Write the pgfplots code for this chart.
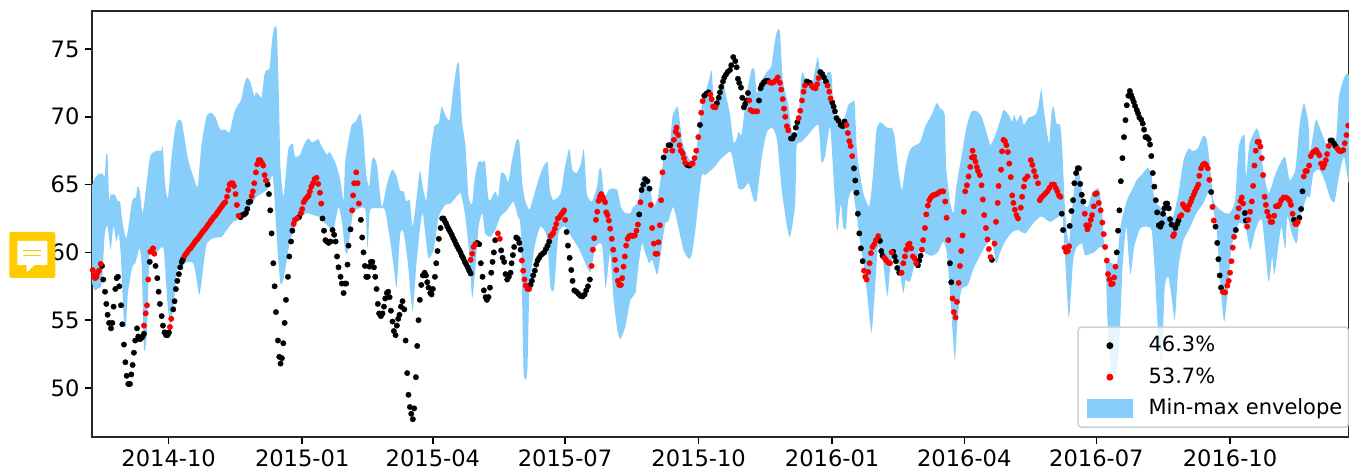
\documentclass[border=0pt]{standalone}
\usepackage{fontspec}
\setmainfont{DejaVu Sans}
\usepackage{pgfplots}
\usepackage{pgfplotstable}
\pgfplotsset{compat=1.18}
\definecolor{envblue}{HTML}{87CEFA}
\definecolor{iconyellow}{HTML}{FFCC00}
\pgfplotstableread[row sep=\\]{
d v\\
-53 64.85\\-51 65.45\\-48 65.8\\-45.5 65.8\\-44 65.6\\-43 67.2\\-42 67.05\\-41 63.85\\-40 64.25\\-37 64.25\\-35 63.75\\-33.5 63.75\\-32 62.4\\-29.5 61.05\\-28 61.65\\-25.5 63.6\\-24 64.05\\-22.5 64.05\\-21.5 64.85\\-20 64.6\\-18 62.9\\-16 64.35\\-13.5 66.55\\-12 67.25\\-8 67.5\\-5 67.5\\-4 67.75\\-2.5 65.1\\-0.5 64\\2 67.05\\4.5 69.15\\6.5 69.75\\9 69.65\\11 68.4\\13.5 66.8\\17 65.6\\20 64.85\\22.5 67.8\\26 70\\29.5 70.3\\32.5 69.9\\35.5 69.05\\39 69.05\\42 68.85\\45 70.25\\47 70.75\\50 71.25\\52 72.35\\54 72.9\\56.5 72.5\\59 71.5\\60 71.8\\62 71.65\\64 71.45\\66 73.1\\67.5 73.45\\69.5 73.55\\71 75.4\\72.5 76.5\\74.5 76.4\\76 71.25\\77 66.3\\79 64.1\\80.5 65.6\\82.5 67.65\\85.5 68\\87 67.05\\90.5 67.2\\93 67.9\\96 68.4\\99 68.1\\103 68.35\\105 67.9\\109 67.2\\
111 67.4\\115 66.55\\118 65.45\\120.5 63.85\\121.5 66.55\\124 68.3\\126 69.4\\129 69.65\\132 70.25\\134 68.8\\136 65.85\\138 64.85\\140 66.8\\141.5 67\\143.5 66.45\\145 64.85\\147 63.35\\150.5 65.1\\154 66.1\\157 65.6\\159.5 64.55\\162 64.5\\163.5 63.75\\166 63.85\\168 61.9\\170 63.35\\173 66\\175 64.85\\177.5 63.85\\180 67.05\\183 69.3\\186 69.5\\188 70.75\\190.5 70.15\\193.5 69.75\\196 72\\198.5 73.8\\200 73.8\\202 69.75\\204.5 67.8\\206.5 64.1\\209 63.6\\211 65.6\\213.5 66.7\\216 66.65\\218 66.65\\220 64.1\\221.5 63.85\\225 64.5\\227 64.1\\229 65.85\\232 65.7\\234 65.2\\236.5 66.8\\239.5 68.25\\241.5 68.15\\243.5 65.2\\245.5 63.85\\248.5 63.15\\252 64.35\\255 65.45\\258 66.3\\261 66.65\\262.5 64.6\\265 63.85\\270 64.35\\273 66.3\\276 67.65\\278 66.1\\281 65.85\\284 66.55\\286 67.6\\288 64.35\\291.5 63.75\\295 64.85\\296.5 66.1\\298 66.1\\300 64.1\\303 64.6\\305 64.7\\309 64.6\\311.5 63.35\\314.5 62.9\\318 62.9\\320 63.35\\323.5 63.75\\326 65.6\\328 65.45\\331.5 64.7\\334 63.35\\337 64.1\\340 66.3\\
342 67.55\\345 67.8\\347 70\\349.5 70.65\\351 70.6\\353.5 68.3\\355.5 67.55\\359 66.8\\362.5 67\\365 68.8\\367 70.65\\369.5 71.7\\372.5 72.85\\374 73.4\\375.5 71.2\\378.5 71\\381.5 72.95\\383 72\\386.5 70.25\\389 68.15\\391 68.3\\392.5 68.9\\394.5 68.65\\397 70.75\\399 72.2\\401.5 73.5\\403.5 73.45\\405 71.7\\407 72.45\\412 73.3\\415 73.7\\417.5 75.55\\419 76.3\\421 76.3\\423 72.7\\427 70.75\\429 68.9\\431.5 68.55\\433.5 69.25\\436 73.2\\439 72.7\\443 72.35\\445 73.35\\447 74.4\\448.5 73.45\\450 72.6\\452 72.7\\454 73.3\\456.5 73.1\\458 70.5\\461 69.4\\464.5 69.5\\468 70.85\\471 71.1\\472.5 71\\474 67.55\\476 65.85\\478.5 64.35\\482.5 63.4\\485 65.6\\487.5 69\\490 69.6\\492.5 69.4\\495.5 69.15\\498 69.2\\500 68.55\\502.5 66.1\\505 64.6\\507.5 66.3\\510.5 67.55\\514 67.9\\517.5 68.1\\521 69.25\\525.5 70.15\\529 71\\531.5 70.6\\534.5 70.15\\535.5 66.3\\538 63.85\\540.5 62.9\\542.5 64.85\\546 67.05\\549.5 69.25\\553 70.4\\556.5 70.4\\560 70\\564.5 68.4\\566 67.9\\569 68.55\\572.5 69.65\\
575 70.5\\578.5 70.15\\581 69.65\\582.5 70.15\\584 69.65\\587 70.15\\589 69.4\\592 69.9\\597 70.15\\599 70.75\\601 72.05\\602.5 70.75\\605 68.8\\606.5 68.05\\608 70.25\\609.5 70.75\\611.5 69.5\\614 69.4\\615.5 67.55\\617.5 62.9\\620 60.65\\622 62.9\\624.5 65.6\\626 66.3\\628 65.35\\630 63.6\\633 63.35\\636 64.35\\639 64.7\\641 64.6\\643 62.9\\644 60.9\\646 59.45\\650 59.2\\652 58.95\\653.5 59.45\\655.5 61.9\\660 63.85\\663.5 64.6\\666.8 65.35\\670 65.7\\674.5 66.25\\677 65.6\\679 63.85\\683 63.35\\686 62.9\\691 62.4\\695.5 64.35\\699 66.8\\702.5 67.65\\705.5 67.45\\709 67.7\\712.5 68.6\\715 68.3\\717.5 66.1\\719.5 63.85\\723 63.25\\727.5 62.9\\731 62.9\\734.5 63.85\\737 67.8\\741 68.65\\742 65.55\\744.5 68.05\\749.5 69.15\\752 68.3\\753.5 66.3\\757.5 64.35\\762 65.7\\765.5 66.55\\769 67.05\\772 65.35\\776 66.1\\779 69.5\\782 71\\785 69.5\\786 67.3\\790 69.75\\793.5 69\\797 68.05\\800 67.8\\804 68.3\\806 71.45\\809.5 72.85\\813 72.85\\
}\envup
\pgfplotstableread[row sep=\\]{
d v\\
-53 57.85\\-51 57.2\\-48.5 57.35\\-46 57.7\\-44 61.4\\-42 61.9\\-40 60.2\\-38 61.9\\-36 60.8\\-34.5 61.4\\-33 59.9\\-31 55.25\\-29.5 54.5\\-28 57\\-25 58.95\\-23 59.2\\-20 60.3\\-18.5 58.95\\-17 52.85\\-15 54\\-13 59.95\\-8 60.05\\-3.5 60.3\\-1 56.5\\1 54.65\\3 55.75\\6 58.7\\9 58.95\\12.5 59.3\\17 59.2\\19 58.2\\21 56.85\\22.5 57.7\\26 60.55\\31 61.05\\36.5 61.15\\40 61.65\\44.5 62.25\\49 62.5\\56 63.35\\60.5 64.1\\67.5 64.6\\71.5 65.7\\73 63.85\\75 60.2\\77 57.7\\79 57.95\\81 59.2\\83.5 60.8\\87 61.9\\90.5 62.5\\95 62.9\\99.5 62.75\\104 62.6\\110 61.9\\
113.5 61.65\\117 63.35\\119.5 62.15\\121.5 60.2\\123 59.9\\125 61.4\\127 62.9\\131 63.25\\135.5 63.15\\137 60.3\\138.5 63\\140.5 63.25\\146 63.25\\149 63.15\\152.5 60.9\\155 58.95\\157 57.45\\159.5 61.4\\162 61.4\\165 58.95\\168 55.65\\170.5 58.95\\173 61.65\\175 62.9\\177.5 60.65\\179 59.55\\182.5 60.2\\186 62.65\\190.5 63.5\\194 63.6\\197.5 64\\201 64.35\\204 62.9\\207 59.95\\209 56.65\\211 58.45\\213.5 61.9\\216 62.9\\218 61.4\\221.5 61.15\\225 61.65\\228.5 62.65\\233 63.1\\237.5 63.75\\240.5 62.65\\242.5 61.65\\244.5 51.2\\247 51.2\\248.5 57.25\\252 60.4\\256 61.9\\260.5 61.15\\263 57.45\\265.5 57.35\\268.5 61.4\\273 61.9\\278 61.05\\282.5 60.3\\287 59.2\\290.5 58.55\\294 60.4\\298.5 60.55\\301 57.35\\304 59.95\\306.5 56.5\\309 54.3\\311 53.6\\314.5 54.5\\318 56.5\\321.5 57\\323.5 58.95\\326 60.65\\328 60.05\\331 59.2\\333 59.45\\336.5 58.35\\338.5 59.55\\
342 62.15\\344 62.25\\347.5 63.35\\351 61.9\\354.5 60.2\\358 59.55\\360 59.7\\362.5 61.4\\367 65.6\\369.5 65.7\\376 66.3\\380 66.85\\387 67.45\\389.5 66.3\\392.5 64.7\\396 64.7\\399.5 65.1\\403 63.85\\405 63.9\\408.5 67\\412 68.9\\416 69.15\\419 68.3\\422 64.85\\425.5 62.15\\428 61.15\\431.5 63.55\\432.5 67.8\\436 68.15\\441.5 68.8\\447.5 69.4\\449.5 66.7\\452 67.05\\455.5 69.3\\457.5 66.35\\460 61.9\\461 61.75\\463 63.6\\464.5 61.9\\466.5 61.75\\468 63.85\\471 64.6\\474 62.65\\476 60.95\\479 58.95\\481 57\\484 54.1\\486 56.5\\488.5 60.4\\491.5 59.7\\495 56.8\\497 58.95\\500 59.95\\503 58.95\\506 57\\507.5 57.95\\510.5 57.85\\514 59.2\\517.5 60.3\\521 59.95\\525.5 59.75\\530 60.05\\533.5 60.8\\536 59.95\\538.5 56.5\\540 54.05\\541.5 52.1\\543.5 55.25\\546 57.25\\550.5 57.6\\554 58.7\\558.5 59.7\\563 60.55\\567 60.9\\570 59.2\\572.5 59.95\\
576 60.8\\581 61.5\\585 61.65\\590 61.4\\595.5 62.15\\601 62.65\\607 62.25\\613 62.65\\615.5 62.9\\617.5 59.45\\620 55.15\\623 59.45\\625.5 60.4\\629 60.65\\631 59.8\\635 59.9\\638 60.05\\641.5 60.4\\645 59.95\\646.5 55.25\\649 51.55\\652.5 50.95\\655 54.05\\657 58.95\\659.5 61.9\\661 59.95\\662.5 58.35\\665 60.4\\669 61.75\\673 61.9\\677 61.65\\679 58.95\\681.5 54.05\\684 52.05\\686 57.4\\688.5 58.2\\691 56.5\\693 55.05\\695.5 58.95\\699 60.9\\702.5 61.65\\708 62.9\\712.5 63.6\\717 64.6\\719 63.5\\722 61.4\\724.5 57.45\\727 54.9\\730 57.7\\732 60.4\\737 62.15\\741.5 61.9\\745 60.2\\748.5 61.65\\753 62.4\\757.5 57.85\\760 59.7\\761.5 58.35\\764.5 60.65\\766.5 61.9\\769 60.2\\770.5 62.65\\773.5 61.4\\777 60.65\\779 62.5\\784 64.1\\786 64.1\\788.5 65.85\\792.5 66.1\\796 65.35\\800 64\\803 63.75\\806 65.6\\809.5 67.05\\813 65.2\\
}\envlo
\pgfplotstablesort[sort key=d, sort cmp=float >]{\envlorev}{\envlo}
\pgfplotstablevertcat{\envall}{\envup}
\pgfplotstablevertcat{\envall}{\envlorev}
\begin{document}
\begin{tikzpicture}
\begin{axis}[
  at={(0pt,0pt)}, anchor=south west,
  scale only axis, width=1257.5pt, height=426pt,
  xmin=-52.8, xmax=813, ymin=46.4, ymax=77.8,
  xtick={0,92,182,273,365,457,548,639,731},
  xticklabels={2014-10,2015-01,2015-04,2015-07,2015-10,2016-01,2016-04,2016-07,2016-10},
  ytick={50,55,60,65,70,75},
  tick align=outside, tick pos=left,
  major tick length=7pt,
  every tick/.style={black,line width=1.5pt},
  axis line style={line width=1.5pt,black!85},
  /pgf/number format/assume math mode=true,
  tick label style={font=\fontsize{22.6}{26}\selectfont},
  xticklabel style={yshift=-2pt},
  yticklabel style={xshift=-2pt},
  legend cell align=left,
  legend style={
    at={(1,0.021)}, anchor=south east,
    draw=black!18, line width=1.5pt, fill=white, fill opacity=0.8, text opacity=1,
    rounded corners=3pt,
    font=\fontsize{21}{25}\selectfont,
    inner xsep=4pt, inner ysep=6.5pt,
    row sep=7.5pt,
    /tikz/column 1/.style={column sep=14pt},
    nodes={inner sep=2pt, text height=16pt, text depth=4pt},
  },
]
\addlegendimage{legend image code/.code={\path (-5pt,0pt) (44pt,0pt); \draw[black,mark=*,mark size=2.7pt,opacity=1,sharp corners] plot coordinates {(22pt,0pt)};}}
\addlegendentry{46.3\%}
\addlegendimage{legend image code/.code={\path (-5pt,0pt) (44pt,0pt); \draw[red,mark=*,mark size=2.7pt,mark options={fill=red},opacity=1,sharp corners] plot coordinates {(22pt,0pt)};}}
\addlegendentry{53.7\%}
\addlegendimage{legend image code/.code={\path (-5pt,0pt) (44pt,0pt); \fill[envblue,fill opacity=1,sharp corners] (0pt,-8.5pt) rectangle (44pt,8.5pt);}}
\addlegendentry{Min-max envelope}

\addplot[fill=envblue, draw=none, forget plot, smooth, tension=0.35] table[x=d,y=v]{\envall};

% black series
\addplot[only marks, mark=*, mark size=2.7pt, color=black, forget plot] coordinates {
(-45.9,59)(-45,58)(-43.8,57.1)(-42.9,56.2)(-42,55.4)(-41,54.8)(-39.7,54.4)(-38.8,54.8)(-37.9,56)(-36.7,57.3)(-35.8,58.1)(-34.9,58.2)(-34,57.5)(-32.8,56.1)(-31.9,54.7)(-30.8,53.2)(-29.8,51.9)(-28.9,50.9)(-27.8,50.3)(-26.6,50.3)(-25.7,51)(-24.8,51.7)(-23.9,52.6)(-23,53.5)(-21.8,54.4)(-20.9,53.8)(-19.7,53.6)(-18.8,53.7)(-17.9,53.8)(-17,54)
(-13,59.3)(-9,59)(-7.8,58.1)(-6.9,57.1)(-6,56.2)(-4.8,55.3)(-3.9,54.6)(-2.8,54.1)(-1.8,53.9)(-0.7,53.9)(0.2,54.1)
(3.2,55.8)(4.1,56.4)(5,57.3)(6,57.9)(7.1,58.4)(8,58.9)(9,59.3)(9.9,59.5)
(49.6,62.6)(50.7,62.75)(52.1,62.8)(53.2,62.9)(54.2,63.2)(55.1,63.7)(56.2,63.75)
(68.2,65)(69.1,64.3)(70,63.1)(70.9,61.4)(72.1,59.2)(73,57.5)(73.9,55.6)(75.3,53.5)(76.2,52.3)(77.1,51.8)(78,52.2)(79,53.3)(79.9,54.8)(80.8,56.5)(82.2,58.2)(83.1,59.7)(84.3,60.8)(85.2,61.6)
(89.8,62.6)
(106,62.5)(107,61.6)(108,60.9)(109,60.8)(110.2,60.7)(111.5,60.8)(112.9,61.65)(114,61.3)(115,60.8)(116,59.7)(117,58.9)(118.4,58.2)(119.3,57.7)(120.5,57)(121.4,57.7)(122.3,57.7)(123.2,59.1)(123.9,60.5)(125.3,61.7)
(132.4,62.4)(133.3,61.1)(134.2,60)(135.2,59)(136.1,58.2)(137.2,58.2)(138.2,58.95)(139.3,59.3)(140.3,59.3)(141.4,58.9)(142.3,58.2)(143.2,57.3)(144.1,56.2)(145,55.5)(146.2,55.3)(147.3,55.5)(148.3,56)(149.2,56.6)(150.3,57)(151.2,57.1)(152.2,56.7)(153.1,55.7)(154.2,54.9)(155.1,54.2)(156.3,53.9)(157.2,54.6)(158.1,55.1)(159,55.4)(160,56)(161.1,56.4)(162.3,55.8)(163.2,53.5)(164.3,51.1)(165.2,49.5)(166.2,48.6)(167.1,48.1)(168.2,47.7)(169.1,48.5)(170.3,50.8)(171.2,53.1)(172.1,55)(173,56.5)(174,57.6)(175.1,58.3)(176.3,58.5)(177.2,58.3)(178.1,57.8)(179,57.4)(180.2,57)(181.1,56.9)(182,57.3)(183.4,58.2)(184.3,59.2)(185.2,60.1)(186.1,61)(187.3,61.8)(188.4,62.5)
(189.3,62.5)(190,62.35)(191,62.15)(192,61.9)(193,61.7)(194,61.5)(195,61.3)(196,61.05)(197,60.85)(198,60.6)(199,60.4)(200,60.2)(201,60)(202,59.75)(203,59.55)(204,59.3)(205,59.1)(206,58.9)(207,58.65)(208,58.45)
(212.5,60.7)(213.9,60.6)(215,59.2)(216.2,58.2)(217.1,57.2)(218.3,56.7)(219.2,56.5)(220.3,56.7)(221.3,57.4)(222.2,58.5)(223.1,59.3)(224,60)(224.9,60.9)
(229,60.15)(230,59.6)(231.1,59.3)(232,58.4)(233.2,58)(234.3,58.2)(235.5,58.5)(236.2,59.2)(237.1,59.8)(238,60.4)(239.4,61.1)(240.5,61)(241.5,60.7)(242.4,60.2)
(249.3,57.6)(250.2,57.9)(251.1,58.3)(252.2,58.65)(253.2,59.1)(254.1,59.4)(255.2,59.6)(256.4,59.8)(257.5,59.9)(258.7,60)(259.8,60.25)(261,60.5)(262.1,60.8)
(274.1,61.5)(275,60.5)(276.2,59.6)(277.3,58.7)(278.2,57.9)(279.4,57.2)(280.8,57.1)(282.2,56.95)(283.5,56.8)(285.1,56.75)(286.5,56.9)(287.6,57.2)(288.8,57.5)(290.1,58)
(324.1,62.8)(325.7,64.6)(326.9,65)(328.2,65.4)(329.8,65.25)(331.2,64.7)
(340.9,67)(344.3,67.9)(345.5,67.9)
(357,66.45)(358.6,66.4)
(365.9,69.4)(368.9,71.55)(370.3,71.7)(371.9,71.8)
(377.6,71)(378.8,71.4)(379.7,71.8)(380.6,72.2)(381.8,72.6)(382.7,72.9)(383.8,73.1)(385,73.3)(386.6,73.45)(387.5,73.8)(388.9,74.4)(390.3,74.1)(391.2,73.65)(392.1,72.8)(393,72.5)(394.2,72.15)(395.1,71.4)(396.2,70.7)(397.1,70.95)(398,71.2)(399,71.75)
(406.6,71.2)(407.7,72.1)(408.6,72.35)(410,72.55)(411.4,72.65)(412.8,72.65)
(428.6,68.4)(429.7,68.4)(430.9,68.65)(432,69.2)(433,69.6)
(439.4,72.6)(440.6,72.55)(441.7,72.5)
(448.8,73.3)(450.2,73.15)(451.3,72.9)(452.7,72.6)
(457.1,71.05)(458,70.75)(458.9,70.4)(460,69.9)(461.4,69.7)(462.8,69.4)(464.2,69.3)(465.5,69.65)
(472,66.2)(472.9,65.3)(473.8,64.4)(474.7,62.85)(475.7,61.4)(476.8,60.3)(478,59.35)
(489.9,60.85)(490.8,60.1)(491.7,59.75)
(499,60.05)(500,59.7)(500.9,59.35)(501.8,58.85)(503.2,58.5)
(516.1,59.05)(517,59.4)(517.9,59.75)
(538.1,59.2)(539,57.8)
(567,59.45)
(615.1,62.85)(616,61.65)
(620.6,61.95)(621.8,63.05)(622.9,63.85)(623.8,65.1)(625,65.85)(626.1,66.2)(627,66.2)(627.8,65.05)(628.9,64.25)(630,63.75)
(653,60)(653.9,61.6)(654.8,63.1)(655.8,65.25)(656.9,66.95)(658,68.5)(659,69.75)(659.9,70.85)(661,71.55)(662,71.9)(662.9,71.6)(663.8,71.35)(664.7,71.1)(665.6,70.8)(666.8,70.5)(667.7,70.25)(668.6,69.95)(669.8,69.8)(670.9,69.5)(671.8,69.05)(672.8,68.5)(673.9,68.5)(675,68.35)(675.9,67.95)(676.8,67.1)(677.8,65.85)(678.9,64.85)(679.9,63.85)(680.8,62.95)(681.9,62)(683.1,61.9)(684,62.15)(684.9,62.85)(685.8,63.25)(686.8,63.6)(687.8,63.6)(688.8,63.25)(689.7,62.45)(690.7,62.05)
(693.4,61.8)(694.6,62.1)(695.5,62.35)
(718,64.45)
(721,61.9)(722.2,60.7)(723,59.5)(723.9,58.3)(724.8,57.4)
(735,61.65)
(741.2,62.9)(741.9,62.35)
(775,62.4)
(778.8,62.55)(780,63.2)(780.9,64.5)
(800.2,68.25)(801.3,68.25)(802.5,68.05)(803.6,67.85)
};
% red series
\addplot[only marks, mark=*, mark size=2.7pt, color=red, forget plot] coordinates {
(-52.3,58.7)(-51.6,58.3)(-50.7,58.1)(-49.6,58.2)(-48.9,58.5)(-48,58.65)(-46.8,59.15)
(-17,54.6)(-15.8,55.5)(-14.9,56.1)(-14,58)(-12.6,60.05)(-11.2,60.2)(-10.7,60.3)(-9.9,59.9)
(0.9,54.5)(1.8,55.1)
(11,59.75)(12,59.9)(13,60.05)(14,60.2)(15,60.3)(16,60.45)(17,60.6)(18,60.75)(19,60.9)(20,61)(21,61.15)(22,61.3)(23,61.45)(24,61.6)(25,61.7)(26,61.85)(27,62)(28,62.15)(29,62.3)(30,62.45)(31,62.6)(32,62.7)(33,62.85)(34,63)(35,63.15)(36,63.3)(37,63.45)(38,63.6)(39,63.7)
(40.2,64.1)(41.1,64.6)(42,65)(42.9,65.1)(44.1,65.1)(45,64.9)(46.1,64.3)(47,63.5)(48.2,62.7)
(57.2,64.15)(58,64.5)(59,65.1)(60.1,65.9)(61,66.5)(62,66.8)(63.1,66.8)(64.3,66.6)(65.2,66.4)(66.1,65.7)(67,65.3)
(86.1,62.1)(87,62.4)(88.4,62.5)
(91.1,62.9)(92,63.2)(93,63.7)(94.1,63.9)(95.3,64.05)(96.4,64.2)(97.3,64.5)(98.3,64.85)(99.4,65.1)(100.5,65.4)(101.9,65.5)(103,65.05)(104.2,64.4)(105.1,63.6)
(126.4,63.1)(127.1,64.2)(127.8,65.1)(129.2,65.9)(130.1,65.1)(131,63.6)
(208,59.45)(209.1,59.9)(210,60.4)(211.2,60.6)
(226.8,61.4)(228.1,61)
(243.3,59.4)(244.2,58.65)(245.1,58)(246,57.55)(247.2,57.3)(248.3,57.3)
(263,61.2)(264,61.3)(265,61.45)(266,61.75)(267,62.1)(268,62.5)(269.2,62.6)(270.4,62.8)(271.5,62.95)(272.4,63.1)(273.1,62.4)
(291.3,59)(292.2,60.2)(293.1,61.05)(294.3,62.4)(295.2,63)(296.1,63.8)(297,64.1)(297.9,64.3)(298.9,64.1)(299.5,63.9)(300.6,63.7)(301.4,62.95)(302.3,62.75)(303.2,62.35)(304.1,61.75)(305.2,61)(306.2,60.2)(307.3,59.45)(308.3,58.7)(309.4,57.9)(310.3,57.6)(311.5,57.6)(312.4,58.1)(313.3,58.95)(314.2,59.7)(315.1,60.5)(316.1,61)(317.2,61.2)(318.4,61.25)(319.7,61.2)(321.1,61.25)(322.2,61.6)(323.2,62.05)
(325,63.7)(332.1,63.5)(333,61.8)(334.2,60.65)(335.3,59.9)(336.5,59.9)(337.4,60.75)(338.3,62)(339.2,63.85)(340.1,65.9)
(342.3,67.5)(346.9,67.5)(348,68.3)(349.2,68.9)(349.8,69.2)(351,68.65)(351.9,67.9)(352.8,67.5)(354,67.3)(354.9,66.95)(355.8,66.6)
(359.7,66.5)(360.9,66.55)(362.2,66.95)(363.4,67.5)(364.8,68.5)
(366.8,70.3)(367.8,71.15)
(373,71.65)(374,71.3)(374.9,70.75)(375.8,70.7)(376.7,70.7)
(399.9,71.2)(400.8,70.5)(402.2,70.4)(403.8,70.4)(405.4,70.4)
(413.9,72.55)(415.3,72.5)(416.7,72.55)(418.3,72.7)(419.6,72.9)(421,72.5)(421.9,72)(422.9,71.3)(423.8,70.6)(424.7,70)(425.8,69.3)(426.8,69)
(433.9,69.9)(435,70.45)(436.2,71.2)(437.3,71.85)(438.2,72.3)
(442.8,72.3)(444,72.15)(445.6,72.1)(446.7,72.4)(447.6,72.85)
(453.8,72.3)(455,71.85)(455.9,71.35)
(466.9,69.4)(467.8,68.8)(468.8,68.2)(469.7,67.85)(470.8,67.1)
(478.9,58.65)(479.8,58.2)(480.7,58)(481.9,58.55)(482.8,59.2)(483.7,59.95)(484.8,60.4)(486,60.6)(487.1,60.9)(488.7,61.2)
(492.9,59.6)(494,59.45)(495.4,59.25)(496.8,59.2)(497.9,60)
(504.8,58.5)(506,59.2)(507.1,59.7)(508,60.2)(509.2,60.55)(510.3,60.65)(511.5,60.3)(512.6,59.7)(513.8,59.55)(514.9,59.2)
(518.8,60.2)(519.7,60.9)(520.9,61.8)(521.8,62.8)(522.9,63.45)(523.9,63.85)(525,64.05)(526.2,64.2)(527.5,64.25)(528.9,64.3)(530.3,64.4)(531.7,64.5)(533.5,64.5)(534.9,63.75)(535.8,62.55)(537,60.9)
(539.9,56.6)(540.8,55.6)(542,55.2)(542.9,56.35)(544.1,57.75)(545,59)(545.9,60.1)(546.8,61.25)(547.7,63)(548.6,64.5)(549.8,64.95)(550.9,65.6)(552.1,66.3)(553.2,67)(553.7,67.5)(554.8,67.05)(555.7,66.7)(556.6,66.3)(557.5,66)(558.7,65.7)(559.9,64.95)(560.8,63.9)(561.7,62.75)(562.9,61.8)(564,60.95)(564.9,60.25)(566.1,59.65)
(568.8,60.65)(569.8,62.25)(571,63.65)(571.6,64.9)(573.3,66.1)(574,67.45)(575,68.3)(576,68.2)(577,67.9)(578,67.4)(579,66.55)(580,65.55)(581,64.2)(581.8,63.65)(582.8,63.15)(583.9,62.75)(585,62.5)(586.9,63.3)(587.8,64.1)(589,64.85)(589.9,65.4)(591.5,65.6)(593.8,66.8)(594.9,66.45)(596,66)(597.2,65.6)(598.8,65.1)(600,63.85)(601.1,64.05)(602.5,64.2)(603.9,64.35)(605.3,64.5)(606.6,64.75)(608.2,65)(609.8,65)(611,64.75)(612.1,64.5)(613.2,64.2)(614.2,64.1)
(617,60.35)(618.1,60.05)(619.3,60.1)(620.2,60.45)
(631,62.85)(632,62)(632.8,61.7)(634,62)(635.1,62.4)(636,62.75)(637.2,63.4)(638.1,64.3)(639.2,64.35)(640.6,63.65)(641.9,63.1)(643.1,62.2)(644,61.35)(645,60.4)(646.1,59.4)(647,58.4)(648,58)(649.1,57.65)(650.2,57.7)(651.2,58.15)(652.1,58.95)
(691.8,61.2)(692.5,61.35)
(696.4,62.65)(697.5,62.75)(698.5,63.55)(699.6,63.35)(700.8,63.2)(701.9,63.15)(703,63.5)(704,63.75)(704.9,64)(706,64.25)(706.9,64.5)(708.1,64.75)(709.2,65)(709.9,65.65)(711,66.2)(712.2,66.45)(713.4,66.55)(714.5,66.45)(715.7,66.2)(716.8,65.35)
(718.9,63.35)(719.8,62.35)
(726,57.1)(727.6,57.05)(729.2,57.55)(730.1,57.9)(731,58.5)(732,59.35)(732.9,60.35)(733.8,61.15)
(735.9,62.6)(737,63.25)(738.2,63.8)(739.1,64.05)(740,63.6)
(742.8,61.9)(743.7,62.4)(744.8,63)(746,63.75)(746.9,64.9)(747.8,66.4)(748.7,67.5)(749.9,68.15)(751,68.15)(752,67.8)(752.9,66.95)(753.8,65.7)(754.8,64.1)(755.7,63.5)(756.6,63)(757.8,62.65)(758.9,62.25)(760.1,62.25)(761.4,62.7)(762.6,63.4)(764,63.4)(765.1,63.55)(766.3,63.85)(767.9,64.05)(769.5,64.05)(770.9,63.95)(772.1,63.8)(773,63.5)(774.1,62.85)
(775.9,62.1)(776.8,62.1)(777.7,62.25)
(781.8,65.6)(782.9,66)(784,66)(785.5,66.4)(786.6,67.1)(787.8,67.35)(789.1,67.45)(790.3,67.55)(791.4,67.35)(792.6,67.15)(793.7,66.55)(794.9,66.25)(796,66.5)(797,66.8)(797.9,67.25)(799,67.85)
(805,67.65)(806.1,67.5)(807.5,67.45)(809.1,67.55)(810,68.05)(811.2,68.65)(812.4,69.35)
};
\end{axis}
% comment icon lying over the tick labels in the reference
\fill[iconyellow, rounded corners=1.5pt] (-82.7pt,159pt) rectangle (-36.7pt,205pt);
\fill[white] (-74.7pt,196pt) -- (-44.7pt,196pt) -- (-44.7pt,172pt) -- (-57pt,172pt) -- (-65.3pt,164.7pt) -- (-65.3pt,172pt) -- (-74.7pt,172pt) -- cycle;
\draw[iconyellow, line width=1pt] (-68.7pt,186.3pt) -- (-51.3pt,186.3pt) (-68.7pt,181.3pt) -- (-51.3pt,181.3pt);
\pgfresetboundingbox
\path[use as bounding box] (-92pt,-37pt) rectangle (1257.5pt,437pt);
\end{tikzpicture}
\end{document}
